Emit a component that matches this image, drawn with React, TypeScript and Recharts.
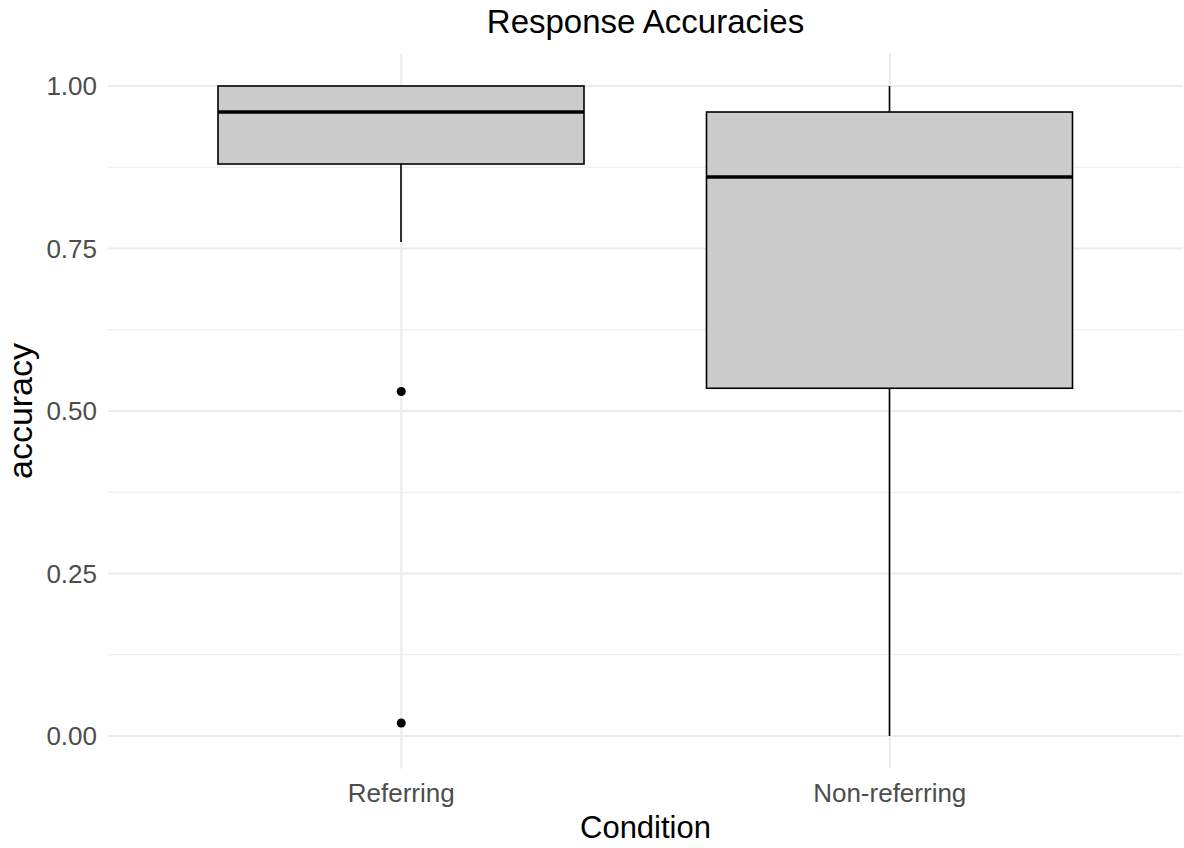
import React from 'react';
import {
  ComposedChart,
  Bar,
  Line,
  XAxis,
  YAxis,
  CartesianGrid,
  Label,
} from 'recharts';

// box plot summaries
const conditions = ['Referring', 'Non-referring'];
const whiskerLow = [0.76, 0.0];
const q1 = [0.88, 0.535];
const median = [0.96, 0.86];
const q3 = [1.0, 0.96];
const whiskerHigh = [1.0, 1.0];
const outlierA = [0.53, null];
const outlierB = [0.02, null];

// major breaks at even positions, minor (unlabelled) in between
const yTicks = [0, 0.125, 0.25, 0.375, 0.5, 0.625, 0.75, 0.875, 1];
const yDomain = [-0.05, 1.05];

const data = conditions.map((condition, i) => ({
  condition,
  range: [whiskerLow[i], whiskerHigh[i]],
  lo: whiskerLow[i],
  q1: q1[i],
  median: median[i],
  q3: q3[i],
  hi: whiskerHigh[i],
  outA: outlierA[i],
  outB: outlierB[i],
}));

const FONT = '"Liberation Sans", Arial, sans-serif';

const isMajor = (v: number) => Math.round(v * 8) % 2 === 0;

// eslint-disable-next-line @typescript-eslint/no-explicit-any
const BoxShape = (props: any) => {
  const { x, y, width, height, payload } = props;
  if (!payload) return null;
  const { lo, hi } = payload;
  // bar spans [lo, hi] in pixels, map other stats linearly inside it
  const top = y;
  const bottom = y + height;
  const toPx = (v: number) => bottom + ((top - bottom) * (v - lo)) / (hi - lo);
  const cx = x + width / 2;
  const yQ1 = toPx(payload.q1);
  const yQ3 = toPx(payload.q3);
  const yMed = toPx(payload.median);
  return (
    <g>
      <line x1={cx} x2={cx} y1={toPx(hi)} y2={yQ3} stroke="#000" strokeWidth={1.6} />
      <line x1={cx} x2={cx} y1={yQ1} y2={toPx(lo)} stroke="#000" strokeWidth={1.6} />
      <rect
        x={x}
        y={yQ3}
        width={width}
        height={yQ1 - yQ3}
        fill="#CCCCCC"
        stroke="#000"
        strokeWidth={1.6}
      />
      <line x1={x} x2={x + width} y1={yMed} y2={yMed} stroke="#000" strokeWidth={3.4} />
    </g>
  );
};

// eslint-disable-next-line @typescript-eslint/no-explicit-any
const HLine = (props: any) => {
  const { x1, x2, y1, y2, index } = props;
  const minor = index % 2 === 1;
  return (
    <line
      x1={x1}
      x2={x2}
      y1={y1}
      y2={y2}
      stroke="#EBEBEB"
      strokeWidth={minor ? 1 : 2}
    />
  );
};

// eslint-disable-next-line @typescript-eslint/no-explicit-any
const YTitle = (props: any) => {
  const { viewBox } = props;
  const cx = viewBox.x + 20;
  const cy = viewBox.y + viewBox.height / 2;
  return (
    <text
      x={cx}
      y={cy}
      transform={`rotate(-90 ${cx} ${cy})`}
      textAnchor="middle"
      dominantBaseline="central"
      fontSize={34}
      fontFamily={FONT}
      fill="#000"
    >
      accuracy
    </text>
  );
};

export default function App() {
  return (
    <div
      style={{
        position: 'absolute',
        left: 0,
        top: 0,
        width: 1184,
        height: 848,
        background: '#fff',
        fontFamily: FONT,
      }}
    >
      <div
        style={{
          position: 'absolute',
          left: 108,
          width: 1075,
          top: 5,
          textAlign: 'center',
          fontSize: 33,
          lineHeight: '33px',
          color: '#000',
        }}
      >
        Response Accuracies
      </div>
      <ComposedChart
        width={1184}
        height={848}
        data={data}
        margin={{ top: 53.5, right: 1, bottom: 0, left: 0 }}
      >
        <CartesianGrid
          stroke="#EBEBEB"
          strokeWidth={2}
          syncWithTicks
          horizontal={<HLine />}
        />
        <XAxis
          dataKey="condition"
          padding={{ left: 49, right: 49 }}
          height={79.5}
          axisLine={false}
          tickLine={false}
          tickSize={0}
          tickMargin={15.5}
          tick={{ fill: '#4D4D4D', fontSize: 26, fontFamily: FONT }}
        >
          <Label
            value="Condition"
            position="insideBottom"
            offset={10}
            style={{ fontSize: 31, fontFamily: FONT, fill: '#000' }}
          />
        </XAxis>
        <YAxis
          type="number"
          domain={yDomain}
          ticks={yTicks}
          interval={0}
          width={108}
          axisLine={false}
          tickLine={false}
          tickSize={0}
          tickMargin={11}
          tickFormatter={(v: number) => (isMajor(v) ? v.toFixed(2) : '')}
          tick={{ fill: '#4D4D4D', fontSize: 26, fontFamily: FONT }}
        >
          <Label content={<YTitle />} />
        </YAxis>
        <Bar
          dataKey="range"
          barSize={366}
          shape={<BoxShape />}
          isAnimationActive={false}
        />
        <Line
          dataKey="outA"
          stroke="none"
          dot={{ r: 4.5, fill: '#000', stroke: 'none' }}
          activeDot={false}
          isAnimationActive={false}
        />
        <Line
          dataKey="outB"
          stroke="none"
          dot={{ r: 4.5, fill: '#000', stroke: 'none' }}
          activeDot={false}
          isAnimationActive={false}
        />
      </ComposedChart>
    </div>
  );
}
